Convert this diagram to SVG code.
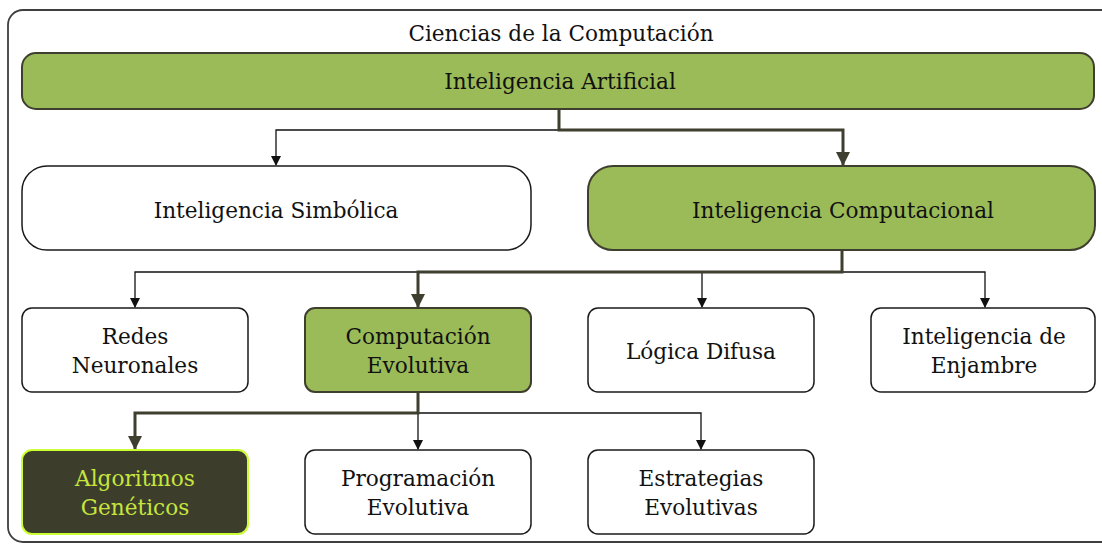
<svg xmlns="http://www.w3.org/2000/svg" width="1102" height="544" viewBox="0 0 1102 544">
<style>
text{font-family:"DejaVu Serif","Liberation Serif",serif;font-size:21.6px;fill:#111;text-anchor:middle}
.white{fill:#fff;stroke:#1a1a1a;stroke-width:1.5}
.green{fill:#9BBB59;stroke:#3F3F2F;stroke-width:2}
.dark{fill:#3D3D2C;stroke:#CCFF33;stroke-width:2}
.thin{fill:none;stroke:#111;stroke-width:1.3}
.thick{fill:none;stroke:#3F3F2F;stroke-width:3}
</style>
<defs>
<marker id="ah" markerWidth="10" markerHeight="10" refX="5" refY="9" orient="0" markerUnits="userSpaceOnUse" viewBox="0 0 10 10"><path d="M0,0 L10,0 L5,10 Z" fill="#111"/></marker>
<marker id="ahT" markerWidth="14" markerHeight="14" refX="7" refY="13" orient="0" markerUnits="userSpaceOnUse" viewBox="0 0 14 14"><path d="M0,0 L14,0 L7,14 Z" fill="#3F3F2F"/></marker>
</defs>
<g id="container">
<rect x="8" y="10" width="1110" height="532" rx="15" fill="#fff" stroke="#3F3F3F" stroke-width="1.8"/>
<text x="561" y="41">Ciencias de la Computación</text>
</g>
<g id="connectors">
<path class="thin" d="M559,130 H276 V165" marker-end="url(#ah)"/>
<path class="thin" d="M418,272 H135 V307" marker-end="url(#ah)"/>
<path class="thin" d="M842,272 H702 V307" marker-end="url(#ah)"/>
<path class="thin" d="M842,272 H985 V307" marker-end="url(#ah)"/>
<path class="thin" d="M418,413 V449" marker-end="url(#ah)"/>
<path class="thin" d="M418,413 H701 V449" marker-end="url(#ah)"/>
<path class="thick" d="M559,109 V130 H843 V165" marker-end="url(#ahT)"/>
<path class="thick" d="M842,250 V272 H418 V307" marker-end="url(#ahT)"/>
<path class="thick" d="M418,392 V413 H135 V449" marker-end="url(#ahT)"/>
</g>
<g id="ia">
<rect class="green" x="22" y="53" width="1072" height="56" rx="14"/>
<text x="560" y="89">Inteligencia Artificial</text>
</g>
<g id="simbolica">
<rect class="white" x="22" y="166" width="509" height="84" rx="25"/>
<text x="276" y="218">Inteligencia Simbólica</text>
</g>
<g id="computacional">
<rect class="green" x="588" y="166" width="507" height="84" rx="25"/>
<text x="843" y="218">Inteligencia Computacional</text>
</g>
<g id="redes">
<rect class="white" x="22" y="308" width="226" height="84" rx="10"/>
<text x="135" y="344">Redes</text>
<text x="135" y="373">Neuronales</text>
</g>
<g id="evolutiva">
<rect class="green" x="305" y="308" width="226" height="84" rx="10"/>
<text x="418" y="344">Computación</text>
<text x="418" y="373">Evolutiva</text>
</g>
<g id="difusa">
<rect class="white" x="588" y="308" width="226" height="84" rx="10"/>
<text x="701" y="359">Lógica Difusa</text>
</g>
<g id="enjambre">
<rect class="white" x="871" y="308" width="224" height="84" rx="10"/>
<text x="984" y="344">Inteligencia de</text>
<text x="984" y="373">Enjambre</text>
</g>
<g id="geneticos">
<rect class="dark" x="22" y="450" width="226" height="84" rx="10"/>
<text x="135" y="486" style="fill:#C6E63E">Algoritmos</text>
<text x="135" y="515" style="fill:#C6E63E">Genéticos</text>
</g>
<g id="programacion">
<rect class="white" x="305" y="450" width="226" height="84" rx="10"/>
<text x="418" y="486">Programación</text>
<text x="418" y="515">Evolutiva</text>
</g>
<g id="estrategias">
<rect class="white" x="588" y="450" width="226" height="84" rx="10"/>
<text x="701" y="486">Estrategias</text>
<text x="701" y="515">Evolutivas</text>
</g>
</svg>
